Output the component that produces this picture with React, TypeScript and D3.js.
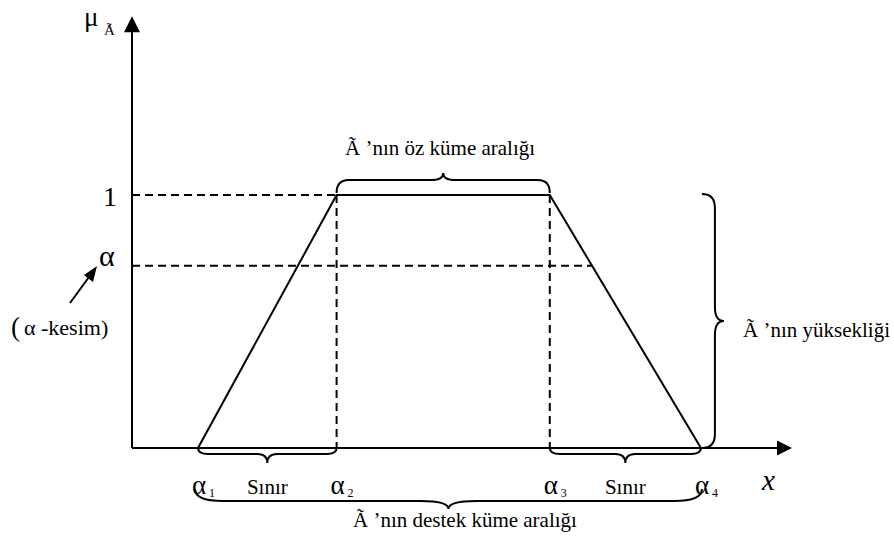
import React from "react";
import * as d3 from "d3";

// ---- data ----
const alphaLabels = ["α", "α", "α", "α"];
const alphaSubs = ["1", "2", "3", "4"];
const alphaPoints = [10, 31, 63.3, 86.2]; // x positions of α1..α4 (data units)
const membership = [0, 1, 1, 0]; // μ at α1..α4
const alphaCut = 0.72; // α-cut level
const xAxisMax = 100;
const yAxisMax = 1.707;
const yTickLabels = ["1", "α"];
const boundaryLabel = "Sınır";

const W = 894;
const H = 536;
const FONT = "Liberation Serif, Times New Roman, DejaVu Serif, serif";

function hBrace(x1: number, x2: number, y: number, d: number, a: number, t: number, r: number) {
  const xm = (x1 + x2) / 2;
  const yh = y + d * a;
  const yt = y + d * (a + t);
  return `M${x1},${y} Q${x1},${yh} ${x1 + r},${yh} L${xm - r},${yh} Q${xm},${yh} ${xm},${yt} Q${xm},${yh} ${xm + r},${yh} L${x2 - r},${yh} Q${x2},${yh} ${x2},${y}`;
}
function vBrace(y1: number, y2: number, x: number, d: number, a: number, t: number, r: number) {
  const ym = (y1 + y2) / 2;
  const xh = x + d * a;
  const xt = x + d * (a + t);
  return `M${x},${y1} Q${xh},${y1} ${xh},${y1 + r} L${xh},${ym - r} Q${xh},${ym} ${xt},${ym} Q${xh},${ym} ${xh},${ym + r} L${xh},${y2 - r} Q${xh},${y2} ${x},${y2}`;
}

export default function App() {
  const x = d3.scaleLinear().domain([0, xAxisMax]).range([132, 792]);
  const y = d3.scaleLinear().domain([0, 1]).range([448, 195]);

  const pts: [number, number][] = alphaPoints.map((a, i) => [x(a), y(membership[i])]);
  const trap = d3.line()(pts) as string;

  const x0 = x(0);
  const y0 = y(0);
  const xEnd = x(xAxisMax);
  const yTop = y(yAxisMax);

  const cutRightX = alphaPoints[2] + (1 - alphaCut) * (alphaPoints[3] - alphaPoints[2]);

  const stroke = "#000";
  const sw = 2;
  const dash = "8,5";

  const labelY = 494;
  const ts = { fontFamily: FONT } as React.CSSProperties;

  return (
    <svg width={W} height={H} style={{ position: "absolute", left: 0, top: 0, background: "#fff", fontFamily: FONT }}>
      {/* axes */}
      <line x1={x0} y1={y0} x2={xEnd - 14} y2={y0} stroke={stroke} strokeWidth={sw} />
      <path d={`M${xEnd},${y0} L${xEnd - 15},${y0 - 7.5} L${xEnd - 15},${y0 + 7.5} Z`} fill={stroke} />
      <line x1={x0} y1={y0} x2={x0} y2={yTop + 14} stroke={stroke} strokeWidth={sw} />
      <path d={`M${x0},${yTop} L${x0 - 8},${yTop + 16} L${x0 + 8},${yTop + 16} Z`} fill={stroke} />

      {/* dashed guides */}
      <line x1={x0} y1={y(1)} x2={x(alphaPoints[1])} y2={y(1)} stroke={stroke} strokeWidth={sw} strokeDasharray={dash} />
      <line x1={x0} y1={y(alphaCut)} x2={x(cutRightX)} y2={y(alphaCut)} stroke={stroke} strokeWidth={sw} strokeDasharray={dash} />
      <line x1={x(alphaPoints[1])} y1={y(1)} x2={x(alphaPoints[1])} y2={y0} stroke={stroke} strokeWidth={sw} strokeDasharray={dash} />
      <line x1={x(alphaPoints[2])} y1={y(1)} x2={x(alphaPoints[2])} y2={y0} stroke={stroke} strokeWidth={sw} strokeDasharray={dash} />

      {/* trapezoid */}
      <path d={trap} fill="none" stroke={stroke} strokeWidth={sw} />

      {/* braces */}
      <path d={hBrace(x(alphaPoints[1]), x(alphaPoints[2]), y(1) - 2, -1, 13, 7, 12)} fill="none" stroke={stroke} strokeWidth={sw} />
      <path d={hBrace(x(alphaPoints[0]), x(alphaPoints[1]), y0, 1, 6, 9, 10)} fill="none" stroke={stroke} strokeWidth={sw} />
      <path d={hBrace(x(alphaPoints[2]), x(alphaPoints[3]), y0, 1, 6, 9, 10)} fill="none" stroke={stroke} strokeWidth={sw} />
      <path d={hBrace(x(alphaPoints[0]) - 3, x(alphaPoints[3]) + 1, 489, 1, 12, 8, 28)} fill="none" stroke={stroke} strokeWidth={sw} />
      <path d={vBrace(y(1) - 1, y0, x(alphaPoints[3]) + 1, 1, 13, 9, 14)} fill="none" stroke={stroke} strokeWidth={sw} />

      {/* y axis label */}
      <text x={84} y={26} fontSize={27} style={ts}>μ</text>
      <text x={104} y={35} fontSize={15} style={ts}>Ã</text>

      {/* y tick labels */}
      <text x={103} y={206} fontSize={28} style={ts}>{yTickLabels[0]}</text>
      <text x={99} y={266} fontSize={30} style={ts}>{yTickLabels[1]}</text>

      {/* alpha-cut arrow */}
      <line x1={70} y1={303} x2={89} y2={277} stroke={stroke} strokeWidth={2} />
      <path d="M97,266 L84,275 L93,282 Z" fill={stroke} />
      <text x={11} y={336} fontSize={27} style={ts}>(</text>
      <text x={24} y={335} fontSize={22} style={ts}>α -kesim)</text>

      {/* x axis labels */}
      {alphaPoints.map((a, i) => (
        <g key={i}>
          <text x={x(a) - 6} y={labelY} fontSize={27} style={ts}>{alphaLabels[i]}</text>
          <text x={x(a) + 11} y={labelY + 3} fontSize={12} style={ts}>{alphaSubs[i]}</text>
        </g>
      ))}
      <text x={(x(alphaPoints[0]) + x(alphaPoints[1])) / 2} y={labelY} fontSize={21} textAnchor="middle" style={ts}>{boundaryLabel}</text>
      <text x={(x(alphaPoints[2]) + x(alphaPoints[3])) / 2} y={labelY} fontSize={21} textAnchor="middle" style={ts}>{boundaryLabel}</text>
      <text x={762} y={490} fontSize={29} fontStyle="italic" style={ts}>x</text>

      {/* annotations */}
      <text x={345} y={155} fontSize={21} style={ts}>Ã ’nın öz küme aralığı</text>
      <text x={353} y={527} fontSize={21} style={ts}>Ã ’nın destek küme aralığı</text>
      <text x={743} y={337} fontSize={21} style={ts}>Ã ’nın yüksekliği</text>
    </svg>
  );
}
